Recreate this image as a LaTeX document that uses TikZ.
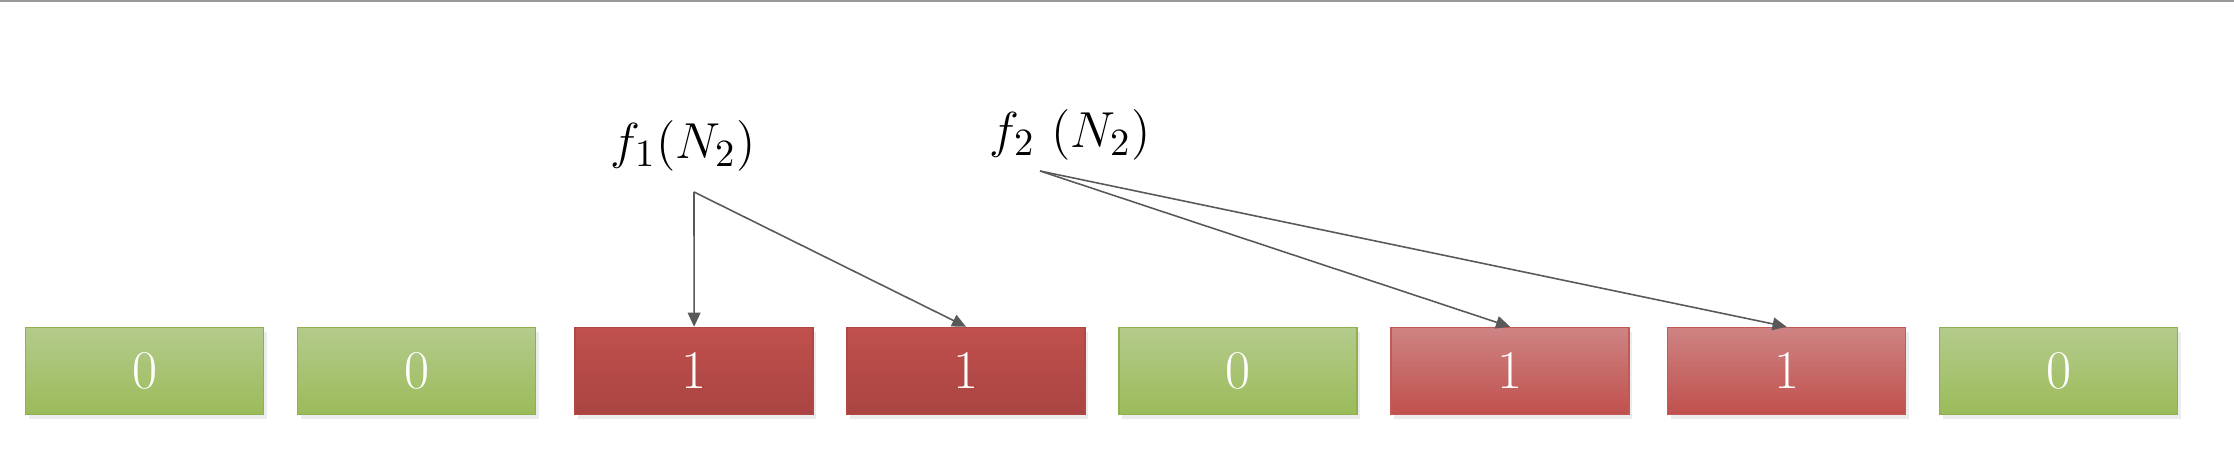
\documentclass[tikz,border=0pt]{standalone}
\usepackage{amsmath}
\usepackage{tikz}
\usetikzlibrary{positioning,shadows,arrows.meta}
\definecolor{greentop}{HTML}{B4CB8C}
\definecolor{greenbot}{HTML}{9BBB59}
\definecolor{greenrim}{HTML}{8FB050}
\definecolor{redtop}{HTML}{C0504D}
\definecolor{redbot}{HTML}{A94442}
\definecolor{redrim}{HTML}{B14845}
\definecolor{pinktop}{HTML}{CE8483}
\definecolor{pinkbot}{HTML}{C0504D}
\definecolor{pinkrim}{HTML}{C15A57}
\tikzstyle{bit} = [rectangle, 
minimum width=2.38cm, 
minimum height=0.87cm,
text centered, 
text=white,
font=\fontsize{15.5}{18}\selectfont,
drop shadow={opacity=0.15, shadow xshift=0.03cm, shadow yshift=-0.05cm}]
\tikzstyle{zerobit} = [bit, draw=greenrim, top color=greentop, bottom color=greenbot]
\tikzstyle{onebit} = [bit, draw=redrim, top color=redtop, bottom color=redbot]
\tikzstyle{onebitlight} = [bit, draw=pinkrim, top color=pinktop, bottom color=pinkbot]
\tikzstyle{hashfn} = [inner sep=0pt, font=\fontsize{15}{18}\selectfont]
\tikzstyle{arrow} = [line width=0.45pt, draw=black!65, -{Triangle[length=4pt,width=3.6pt]}]

\begin{document}
\begin{tikzpicture}[node distance=2.72cm]
\useasboundingbox (0,0) rectangle (22.34,4.54);
\draw [gray!80, line width=0.6pt] (0,4.53) -- (22.34,4.53);

\node (b1) [zerobit] at (1.446,0.83) {0};
\node (b2) [zerobit, right of=b1] {0};
\node (b3) [onebit, right of=b2, xshift=0.055cm] {1};
\node (b4) [onebit, right of=b3] {1};
\node (b5) [zerobit, right of=b4] {0};
\node (b6) [onebitlight, right of=b5] {1};
\node (b7) [onebitlight, right of=b6, xshift=0.045cm] {1};
\node (b8) [zerobit, right of=b7] {0};

\node (f1) [hashfn] at (6.83,3.08) {$f_1(N_2)$};
\node (f2) [hashfn] at (10.70,3.19) {$f_2\ (N_2)$};

\draw [arrow] ([shift={(0.11,-0.2)}]f1.south) -- (b3.north);
\draw [arrow] ([shift={(0.11,-0.2)}]f1.south) -- (b4.north);
\draw [arrow] ([shift={(-0.3,-0.1)}]f2.south) -- (b6.north);
\draw [arrow] ([shift={(-0.3,-0.1)}]f2.south) -- (b7.north);

\end{tikzpicture}
\end{document}
